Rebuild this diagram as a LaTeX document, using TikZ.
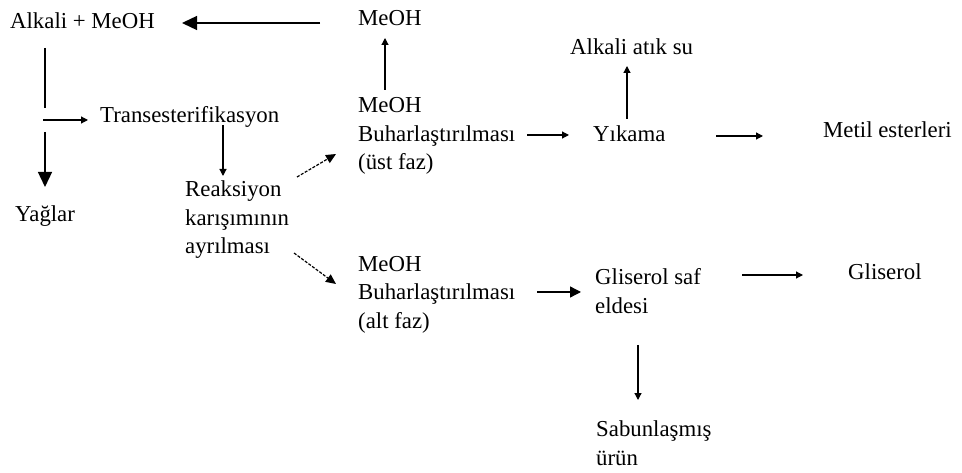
\documentclass[tikz,border=0pt]{standalone}
\usepackage{fontspec}
\setmainfont{Liberation Serif}
\usetikzlibrary{arrows.meta}
\begin{document}
\begin{tikzpicture}[x=1pt,y=-1pt,
  lbl/.style={anchor=base west,inner sep=0pt,font=\fontsize{22.8}{28.5}\selectfont,align=left},
  conn/.style={line width=1.2pt,-{Triangle[length=7pt,width=7pt]}},
  bigconn/.style={line width=1.3pt,-{Triangle[length=15pt,width=14pt]}},
  midconn/.style={line width=1.3pt,-{Triangle[length=11pt,width=11pt]}},
  dashconn/.style={line width=1.2pt,dash pattern=on 3pt off 1.5pt,-{Triangle[length=10pt,width=9pt]}},
  plain/.style={line width=1.3pt}]
\useasboundingbox (0,0) rectangle (962,473);
% nodes (multi-line nodes are placed by the baseline of their last line)
\node[lbl] (alk) at (10,29) {Alkali + MeOH};
\node[lbl] (meohtop) at (358,26) {MeOH};
\node[lbl] (ust) at (358,170) {MeOH\\Buharlaştırılması\\(üst faz)};
\node[lbl] (yik) at (593,142) {Yıkama};
\node[lbl] (atik) at (570,55) {Alkali atık su};
\node[lbl] (metil) at (823,138) {Metil esterleri};
\node[lbl] (trans) at (100,123) {Transesterifikasyon};
\node[lbl] (yag) at (15,222) {Yağlar};
\node[lbl] (reak) at (185,254) {Reaksiyon\\karışımının\\ayrılması};
\node[lbl] (alt) at (358,328) {MeOH\\Buharlaştırılması\\(alt faz)};
\node[lbl] (glsaf) at (595,313) {Gliserol saf\\eldesi};
\node[lbl] (gl) at (848,280) {Gliserol};
\node[lbl] (sab) at (596,465) {Sabunlaşmış\\ürün};
% connector end points
\coordinate (a1) at (320,23);   \coordinate (a2) at (182,23);
\coordinate (b1) at (385,90);   \coordinate (b2) at (385,38);
\coordinate (c1) at (527,135);  \coordinate (c2) at (569,135);
\coordinate (d1) at (627,119);  \coordinate (d2) at (627,66);
\coordinate (e1) at (716,136);  \coordinate (e2) at (763,136);
\coordinate (f1) at (45,48);    \coordinate (f2) at (45,108);
\coordinate (g1) at (43,120);   \coordinate (g2) at (88,120);
\coordinate (h1) at (45,132);   \coordinate (h2) at (45,187);
\coordinate (i1) at (223,125);  \coordinate (i2) at (223,176);
\coordinate (j1) at (297,177);  \coordinate (j2) at (336,154);
\coordinate (k1) at (294,253);  \coordinate (k2) at (336,284);
\coordinate (l1) at (537,292);  \coordinate (l2) at (581,292);
\coordinate (m1) at (742,275);  \coordinate (m2) at (803,275);
\coordinate (n1) at (638,345);  \coordinate (n2) at (638,400);
% connectors
\draw[bigconn] (a1) -- (a2);
\draw[conn] (b1) -- (b2);
\draw[conn] (c1) -- (c2);
\draw[conn] (d1) -- (d2);
\draw[conn] (e1) -- (e2);
\draw[plain] (f1) -- (f2);
\draw[conn] (g1) -- (g2);
\draw[bigconn] (h1) -- (h2);
\draw[conn] (i1) -- (i2);
\draw[dashconn] (j1) -- (j2);
\draw[dashconn] (k1) -- (k2);
\draw[midconn] (l1) -- (l2);
\draw[conn] (m1) -- (m2);
\draw[conn] (n1) -- (n2);
\end{tikzpicture}
\end{document}
